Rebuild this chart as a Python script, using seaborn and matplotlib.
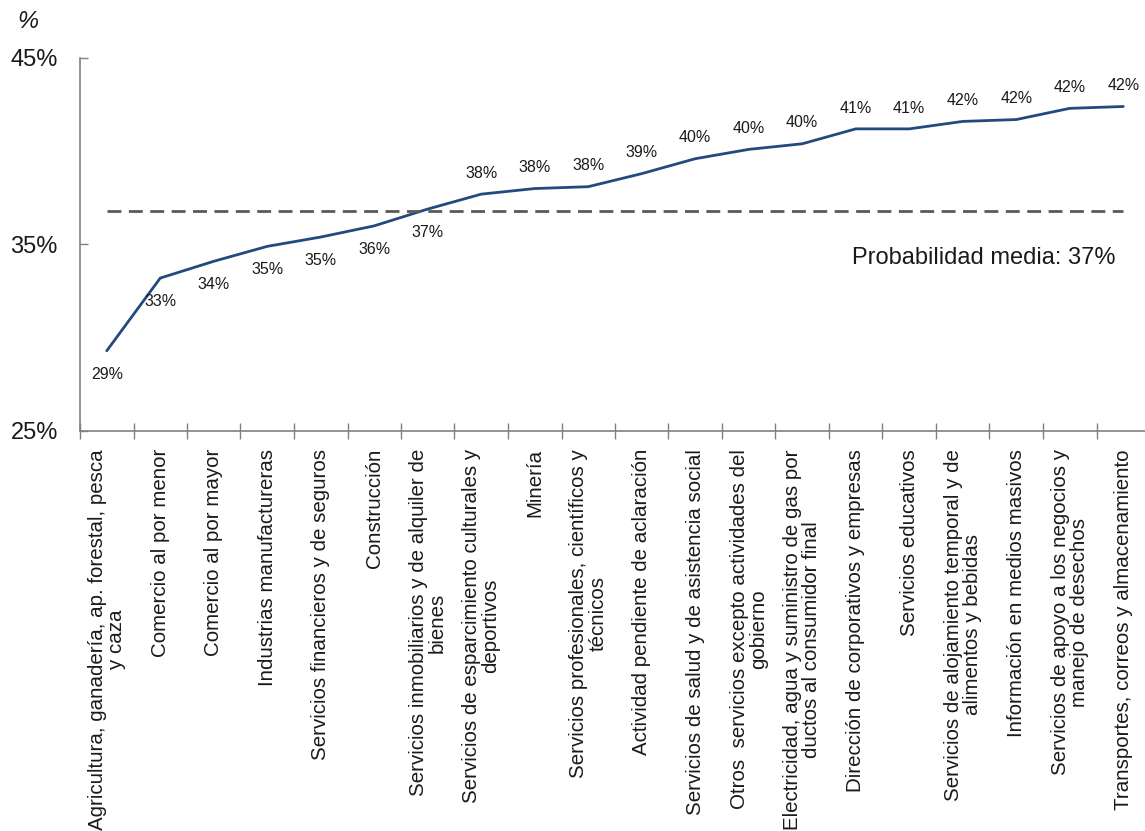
import numpy as np
import matplotlib
matplotlib.use("Agg")
import matplotlib.pyplot as plt
import seaborn as sns

categories = [
    "Agricultura, ganadería, ap. forestal, pesca\ny caza",
    "Comercio al por menor",
    "Comercio al por mayor",
    "Industrias manufactureras",
    "Servicios financieros y de seguros",
    "Construcción",
    "Servicios inmobiliarios y de alquiler de\nbienes",
    "Servicios de esparcimiento culturales y\ndeportivos",
    "Minería",
    "Servicios profesionales, científicos y\ntécnicos",
    "Actividad pendiente de aclaración",
    "Servicios de salud y de asistencia social",
    "Otros  servicios excepto actividades del\ngobierno",
    "Electricidad, agua y suministro de gas por\nductos al consumidor final",
    "Dirección de corporativos y empresas",
    "Servicios educativos",
    "Servicios de alojamiento temporal y de\nalimentos y bebidas",
    "Información en medios masivos",
    "Servicios de apoyo a los negocios y\nmanejo de desechos",
    "Transportes, correos y almacenamiento",
]
values = [29.3, 33.2, 34.1, 34.9, 35.4, 36.0, 36.9, 37.7, 38.0, 38.1,
          38.8, 39.6, 40.1, 40.4, 41.2, 41.2, 41.6, 41.7, 42.3, 42.4]
mean_value = 36.8
mean_label = "Probabilidad media: 37%"
y_ticks = [25, 35, 45]

sns.set_theme(style="white")
plt.rcParams["font.family"] = ["Liberation Sans", "DejaVu Sans"]

W, H = 1145, 831
fig = plt.figure(figsize=(W / 100, H / 100), dpi=100)
ax = fig.add_axes([80 / W, 1 - 431 / H, 1070 / W, (431 - 58) / H])

x = np.arange(len(values))
sns.lineplot(x=x, y=values, ax=ax, color="#234A7E", linewidth=2.0, sort=False)

# mean line
ax.plot([x[0], x[-1]], [mean_value, mean_value], color="#595959",
        linewidth=2.0, linestyle=(0, (5, 2.7)))
ax.text(x[-1] - 0.15, mean_value - 2.5, mean_label, ha="right", va="center",
        fontsize=17, color="#1a1a1a")

# data labels
for i, v in enumerate(values):
    below = i <= 6
    ax.annotate(f"{v:.0f}%", (x[i], v), xytext=(0, -17 if below else 15),
                textcoords="offset points", ha="center", va="center",
                fontsize=11.5, color="#1a1a1a")

ax.set_xlim(-0.5, len(values) - 0.5)
ax.set_ylim(25, 45)
ax.set_yticks(y_ticks)
ax.set_yticklabels([f"{t}%" for t in y_ticks], fontsize=17, color="#1a1a1a")
ax.tick_params(axis="y", direction="in", length=6, width=1, color="#808080", pad=16, left=True)

ax.set_xticks(x)
ax.set_xticklabels(categories, rotation=90, fontsize=14.8, color="#1a1a1a",
                   ha="center", va="top", multialignment="center", linespacing=1.0)
ax.set_xticks(np.arange(-0.5, len(values), 1.0), minor=True)
ax.tick_params(axis="x", which="major", length=0, pad=13)
ax.tick_params(axis="x", which="minor", direction="inout", length=12, width=1,
               color="#808080", bottom=True)

for s in ["top", "right"]:
    ax.spines[s].set_visible(False)
for s in ["left", "bottom"]:
    ax.spines[s].set_color("#808080")
    ax.spines[s].set_linewidth(1.2)
ax.set_xlabel("")
ax.set_ylabel("")

fig.text(17 / W, 1 - 22 / H, "%", fontsize=17, style="italic", ha="left",
         va="center", color="#1a1a1a")

fig.savefig("out.png", dpi=100)
